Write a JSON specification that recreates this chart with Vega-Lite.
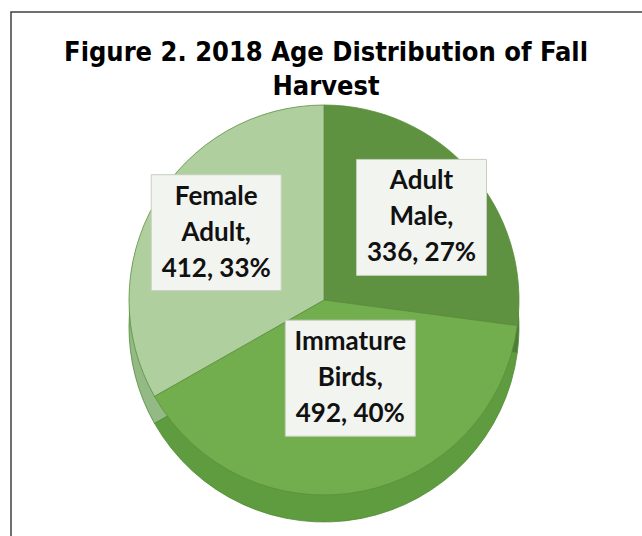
{
  "$schema": "https://vega.github.io/schema/vega-lite/v6.json",
  "autosize": "none",
  "padding": {"left": 11, "top": 12, "right": 0, "bottom": 0},
  "width": 640,
  "height": 540,
  "background": "white",
  "config": {"view": {"stroke": "#404040", "strokeWidth": 1.5}},
  "title": {
    "text": ["Figure 2. 2018 Age Distribution of Fall", "Harvest"],
    "font": "DejaVu Sans Condensed, Roboto",
    "fontWeight": "bold",
    "fontSize": 27,
    "lineHeight": 34,
    "color": "black",
    "anchor": "middle",
    "offset": -89,
    "dx": -5
  },
  "data": {
    "values": [
      {"category": "Adult Male", "idx": 1, "count": 336, "label": "Adult\nMale,\n336, 27%"},
      {"category": "Immature Birds", "idx": 2, "count": 492, "label": "Immature\nBirds,\n492, 40%"},
      {"category": "Female Adult", "idx": 3, "count": 412, "label": "Female\nAdult,\n412, 33%"}
    ]
  },
  "transform": [
    {"joinaggregate": [{"op": "sum", "field": "count", "as": "total"}]},
    {"window": [{"op": "sum", "field": "count", "as": "cum"}], "sort": [{"field": "idx"}]},
    {"calculate": "2*PI*(datum.cum - datum.count/2)/datum.total", "as": "mid"},
    {"calculate": "315 + 127*sin(datum.mid)", "as": "lx"},
    {"calculate": "270 - 98*cos(datum.mid)", "as": "ly"},
    {"calculate": "datum.lx - 65", "as": "bx1"},
    {"calculate": "datum.lx + 65", "as": "bx2"},
    {"calculate": "datum.ly - 58", "as": "by1"},
    {"calculate": "datum.ly + 58", "as": "by2"}
  ],
  "layer": [
    {
      "mark": {"type": "arc", "outerRadius": 195, "x": 313, "y": 288, "yOffset": 27, "stroke": "#4f8a33", "strokeWidth": 0.8},
      "encoding": {
        "theta": {"field": "count", "type": "quantitative", "stack": true},
        "order": {"field": "idx", "type": "quantitative"},
        "color": {
          "field": "category", "type": "nominal",
          "scale": {"domain": ["Adult Male", "Immature Birds", "Female Adult"], "range": ["#4e7d35", "#5f9c40", "#93b985"]},
          "legend": null
        }
      }
    },
    {
      "mark": {"type": "arc", "outerRadius": 195, "x": 313, "y": 288, "stroke": "#5a8f3c", "strokeWidth": 0.8},
      "encoding": {
        "theta": {"field": "count", "type": "quantitative", "stack": true},
        "order": {"field": "idx", "type": "quantitative"},
        "fill": {
          "field": "category", "type": "nominal",
          "scale": {"domain": ["Adult Male", "Immature Birds", "Female Adult"], "range": ["#5e9140", "#72ae4e", "#b0cf9f"]},
          "legend": null
        }
      }
    },
    {
      "mark": {"type": "rect", "fill": "#f2f4f0", "stroke": "#c5cfbe", "strokeWidth": 1},
      "encoding": {
        "x": {"field": "bx1", "type": "quantitative", "scale": {"domain": [0, 640], "nice": false, "zero": false}, "axis": null},
        "x2": {"field": "bx2"},
        "y": {"field": "by1", "type": "quantitative", "scale": {"domain": [0, 540], "reverse": true, "nice": false, "zero": false}, "axis": null},
        "y2": {"field": "by2"}
      }
    },
    {
      "mark": {"type": "text", "font": "Lato", "fontWeight": "bold", "fontSize": 26, "lineHeight": 36, "lineBreak": "\n", "align": "center", "baseline": "middle", "dy": -36, "color": "#111111"},
      "encoding": {
        "x": {"field": "lx", "type": "quantitative", "scale": {"domain": [0, 640], "nice": false, "zero": false}, "axis": null},
        "y": {"field": "ly", "type": "quantitative", "scale": {"domain": [0, 540], "reverse": true, "nice": false, "zero": false}, "axis": null},
        "text": {"field": "label"}
      }
    }
  ],
  "resolve": {"scale": {"color": "independent", "fill": "independent"}}
}
